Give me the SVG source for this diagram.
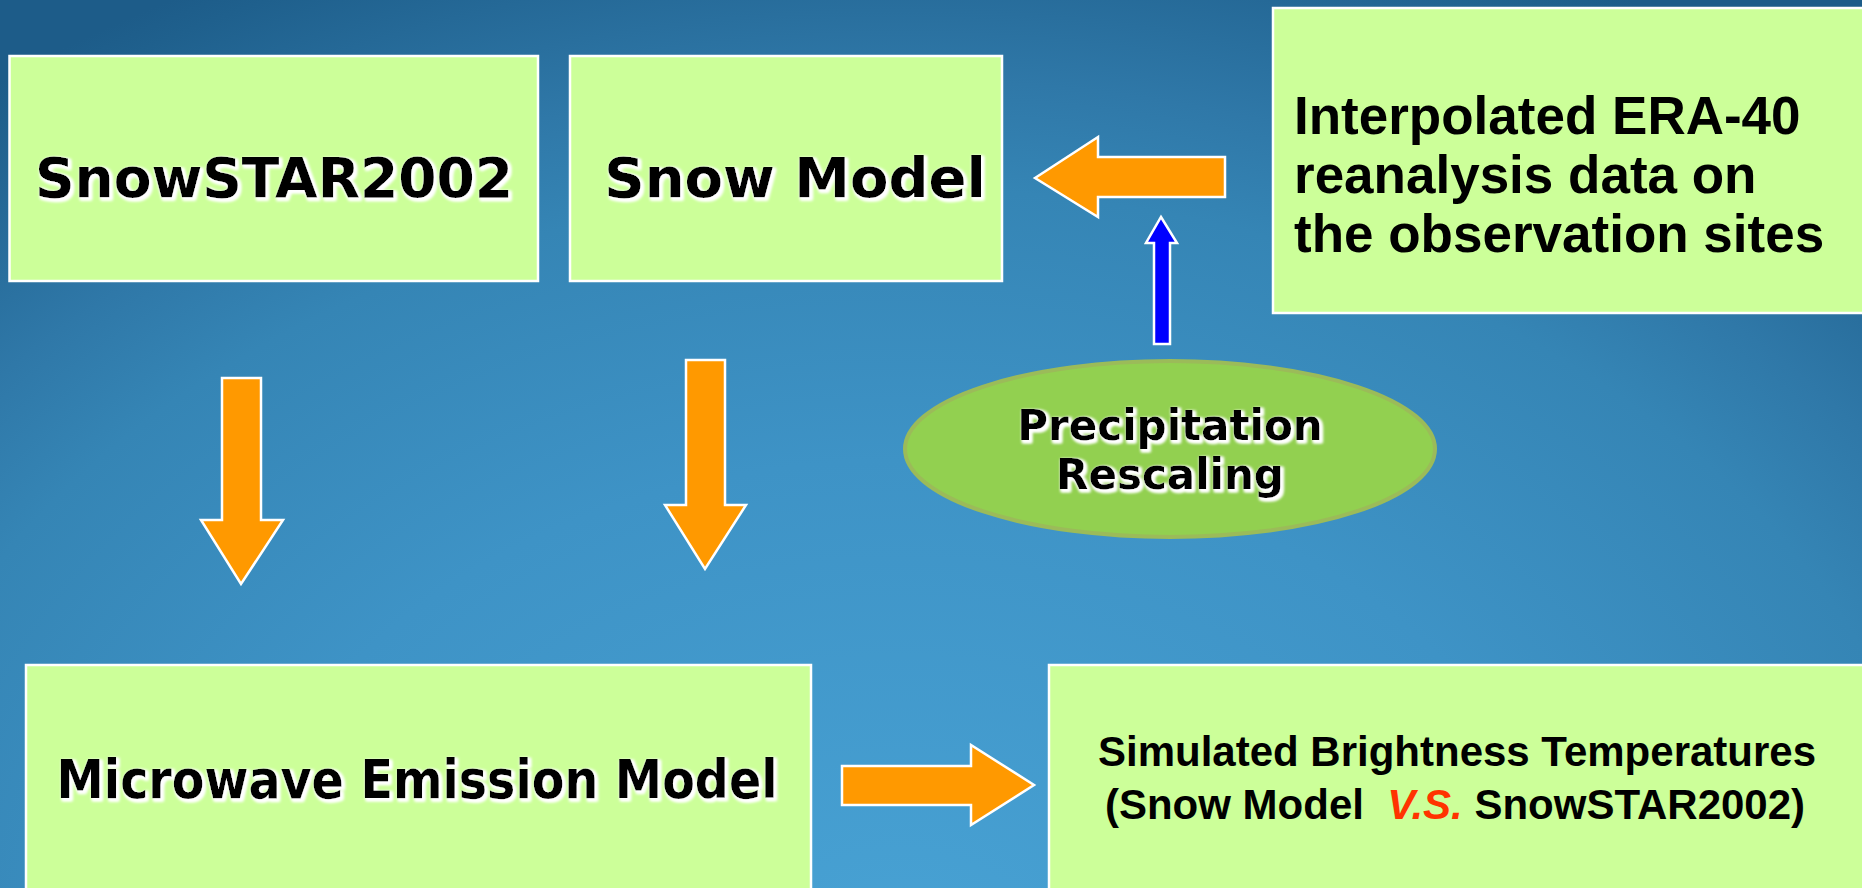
<svg xmlns="http://www.w3.org/2000/svg" width="1862" height="888" viewBox="0 0 1862 888">
  <defs>
    <radialGradient id="bg" gradientUnits="userSpaceOnUse" cx="900" cy="950" r="1360" gradientTransform="translate(900 950) scale(1.1 0.8) translate(-900 -950)">
      <stop offset="0" stop-color="#48a2d4"/>
      <stop offset="0.45" stop-color="#3e93c6"/>
      <stop offset="0.7" stop-color="#3585b5"/>
      <stop offset="0.8" stop-color="#2f78a8"/>
      <stop offset="0.97" stop-color="#1f608d"/>
      <stop offset="1" stop-color="#1d5c89"/>
    </radialGradient>
    <filter id="glow" x="-5%" y="-30%" width="110%" height="160%">
      <feMorphology in="SourceAlpha" operator="dilate" radius="1.2" result="d"/>
      <feGaussianBlur in="d" stdDeviation="1.4" result="b"/>
      <feOffset in="b" dx="1.5" dy="1.5" result="o"/>
      <feFlood flood-color="#ffffff"/>
      <feComposite in2="o" operator="in" result="g"/>
      <feMerge>
        <feMergeNode in="g"/>
        <feMergeNode in="g"/>
        <feMergeNode in="SourceGraphic"/>
      </feMerge>
    </filter>
    <style>
      .box { fill: #ccff99; stroke: #ffffff; stroke-width: 2.5; }
      .oarrow { fill: #ff9900; stroke: #ffffff; stroke-width: 2.5; stroke-linejoin: miter; }
      .barrow { fill: #0000ff; stroke: #ffffff; stroke-width: 2.5; }
      .ell { fill: #92d050; stroke: #9bbb59; stroke-width: 4; }
      .dv { font-family: "DejaVu Sans", Verdana, sans-serif; font-weight: bold; fill: #000000; text-anchor: middle; }
      .ar { font-family: "Liberation Sans", Arial, sans-serif; font-weight: bold; fill: #000000; }
    </style>
  </defs>

  <rect x="0" y="0" width="1862" height="888" fill="url(#bg)"/>

  <g id="snowstar">
    <rect class="box" x="9.5" y="56" width="528.5" height="225"/>
    <text class="dv" x="274" y="197" font-size="55" filter="url(#glow)">SnowSTAR2002</text>
  </g>

  <g id="snowmodel">
    <rect class="box" x="570" y="56" width="432" height="225"/>
    <text class="dv" x="795" y="197" font-size="56" filter="url(#glow)">Snow Model</text>
  </g>

  <g id="era40">
    <rect class="box" x="1273" y="8" width="600" height="305"/>
    <text class="ar" x="1294" y="134" font-size="53">Interpolated ERA-40</text>
    <text class="ar" x="1294" y="193" font-size="53">reanalysis data on</text>
    <text class="ar" x="1294" y="252" font-size="53">the observation sites</text>
  </g>

  <g id="precip">
    <ellipse class="ell" cx="1170" cy="449" rx="265" ry="88"/>
    <text class="dv" x="1170" y="440" font-size="42" filter="url(#glow)">Precipitation</text>
    <text class="dv" x="1170" y="489" font-size="42" filter="url(#glow)">Rescaling</text>
  </g>

  <g id="microwave">
    <rect class="box" x="26" y="665" width="785" height="240"/>
    <text class="dv" x="417" y="798" font-size="54" textLength="721" lengthAdjust="spacingAndGlyphs" filter="url(#glow)">Microwave Emission Model</text>
  </g>

  <g id="simulated">
    <rect class="box" x="1049" y="665" width="830" height="240"/>
    <text class="ar" x="1457" y="766" font-size="42" text-anchor="middle">Simulated Brightness Temperatures</text>
    <text class="ar" x="1455" y="819" font-size="42" text-anchor="middle" xml:space="preserve">(Snow Model  <tspan fill="#ff3300" font-style="italic">V.S.</tspan> SnowSTAR2002)</text>
  </g>

  <g id="connectors">
    <polygon class="oarrow" points="1035,178 1098,137 1098,157 1225,157 1225,197 1098,197 1098,217"/>
    <polygon class="barrow" points="1161,217 1177,243 1170,243 1170,344 1154,344 1154,243 1146,243"/>
    <polygon class="oarrow" points="222,378 261,378 261,520 283,520 241,584 201,520 222,520"/>
    <polygon class="oarrow" points="686,360 725,360 725,505 746,505 705,569 665,505 686,505"/>
    <polygon class="oarrow" points="842,766 971,766 971,745 1034,785 971,825 971,805 842,805"/>
  </g>
</svg>
